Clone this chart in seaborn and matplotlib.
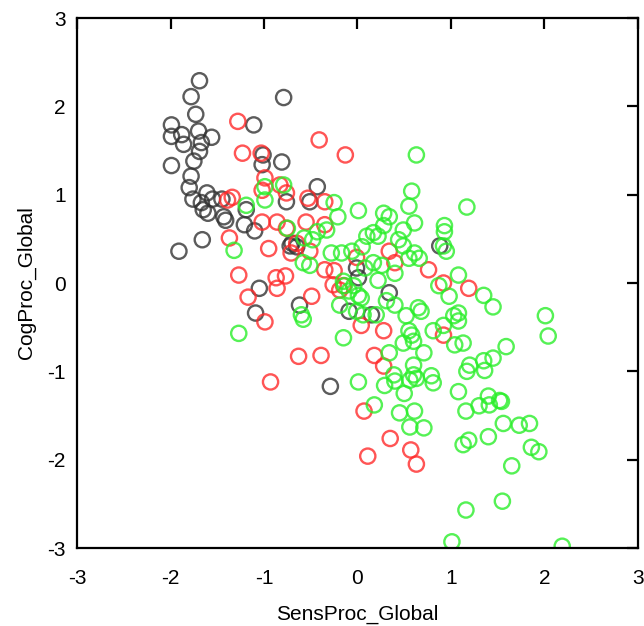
import matplotlib
matplotlib.use("Agg")
import matplotlib.pyplot as plt
import seaborn as sns
import pandas as pd
from matplotlib.colors import to_rgba

# 그룹별 점 데이터
black_x = [-1.69, -1.78, -1.73, -1.99, -1.99, -1.88, -1.86, -1.70, -1.67, -1.56,
           -1.69, -1.75, -1.99, -1.78, -1.80, -1.76, -1.61, -1.55, -1.67, -1.65,
           -1.60, -1.43, -1.41, -1.21, -1.10, -1.19, -1.45, -1.66, -1.91, -1.11,
           -1.01, -1.02, -0.81, -0.79, -0.76, -0.51, -0.43, -0.70, -0.65, -0.72,
           -1.05, -1.09, -0.62, -0.01, 0.01, 0.34, -0.09, 0.15, 0.88, -0.29]
black_y = [2.29, 2.11, 1.91, 1.79, 1.66, 1.68, 1.57, 1.72, 1.59, 1.65,
           1.49, 1.38, 1.33, 1.21, 1.08, 0.95, 1.02, 0.95, 0.91, 0.83,
           0.79, 0.75, 0.71, 0.66, 0.59, 0.83, 0.95, 0.49, 0.36, 1.79,
           1.45, 1.34, 1.37, 2.10, 0.92, 0.92, 1.09, 0.45, 0.41, 0.42,
           -0.06, -0.34, -0.25, 0.17, 0.06, -0.11, -0.32, -0.36, 0.42, -1.17]

red_x = [-1.28, -1.23, -1.03, -0.41, -0.13, -0.99, -1.02, -0.83, -0.76, -0.53,
         -0.35, -1.39, -1.34, -1.02, -0.86, -0.55, -0.35, -0.76, -1.37, -0.95,
         -0.65, -1.27, -1.17, -0.99, -0.87, -0.77, -0.71, -0.51, -0.49, -0.35,
         -0.25, -0.26, -0.15, -0.19, 0.34, 0.40, 0.76, 0.92, 1.19, 0.04,
         0.28, 0.92, -0.63, -0.39, 0.18, 0.28, -0.93, 0.07, 0.35, 0.11,
         0.57, 0.63, -0.01, -0.86]
red_y = [1.83, 1.47, 1.47, 1.62, 1.45, 1.19, 1.05, 1.11, 1.02, 0.96,
         0.92, 0.94, 0.97, 0.69, 0.69, 0.69, 0.66, 0.62, 0.51, 0.39,
         0.45, 0.09, -0.16, -0.44, 0.06, 0.08, 0.34, 0.36, -0.15, 0.15,
         0.14, -0.02, -0.03, -0.08, 0.36, 0.23, 0.15, 0.00, -0.06, -0.48,
         -0.54, -0.59, -0.83, -0.82, -0.82, -0.94, -1.12, -1.45, -1.76, -1.96,
         -1.89, -2.05, 0.29, -0.06]

green_x = [0.63, 0.58, -0.79, -0.99, -1.19, -0.99, -0.75, -0.57, -0.48, -1.32,
           -0.25, -0.21, -0.33, -0.43, 0.01, 0.55, 1.17, 0.28, 0.34, 0.61,
           0.93, 0.93, 0.49, 0.28, 0.17, 0.10, 0.22, 0.44, 0.49, 0.92,
           0.95, -0.28, -0.17, -0.06, 0.05, 0.17, 0.26, 0.55, 0.66, 0.61,
           -0.58, -0.51, 0.40, 1.08, 0.87, 0.98, -0.15, -0.14, -0.04, -0.09,
           0.01, 0.04, 0.31, 0.40, -0.19, -0.01, 0.06, 0.20, -0.60, -0.58,
           0.65, 0.68, 0.52, 1.08, 1.08, 1.03, 0.92, 0.81, 0.55, 0.58,
           0.60, 0.49, 1.04, 1.13, 0.71, 0.34, -0.15, 0.01, 0.39, 0.60,
           0.60, 1.20, 1.17, 0.79, 0.29, 0.40, 0.56, 0.63, 0.81, 0.50,
           0.18, 0.45, 0.61, 0.56, 0.71, 1.08, 1.16, 1.13, 1.19, 1.16,
           1.01, 1.40, 1.30, 1.41, 1.52, 1.54, 1.56, 1.73, 1.84, 1.40,
           1.86, 1.94, 1.65, 1.55, 2.19, 1.35, 1.45, 2.01, 2.04, 1.59,
           1.45, 1.35, 1.36, -1.27, 0.08, 0.22]
green_y = [1.45, 1.04, 1.11, 1.09, 0.88, 0.94, 0.62, 0.51, 0.49, 0.37,
           0.91, 0.75, 0.60, 0.58, 0.82, 0.87, 0.86, 0.79, 0.75, 0.68,
           0.65, 0.58, 0.60, 0.65, 0.57, 0.53, 0.53, 0.49, 0.42, 0.42,
           0.36, 0.34, 0.34, 0.36, 0.41, 0.23, 0.20, 0.28, 0.28, 0.34,
           0.23, 0.20, 0.11, 0.09, -0.03, -0.15, 0.02, -0.03, -0.03, -0.09,
           -0.14, -0.17, -0.20, -0.25, -0.25, -0.32, -0.36, -0.36, -0.36, -0.41,
           -0.28, -0.32, -0.37, -0.34, -0.43, -0.37, -0.48, -0.54, -0.54, -0.59,
           -0.66, -0.68, -0.70, -0.68, -0.79, -0.79, -0.62, -1.12, -1.04, -0.93,
           -1.04, -0.93, -1.00, -1.05, -1.16, -1.11, -1.10, -1.08, -1.13, -1.25,
           -1.38, -1.47, -1.45, -1.63, -1.64, -1.23, -1.45, -1.83, -1.78, -2.57,
           -2.93, -1.28, -1.39, -1.38, -1.33, -1.34, -1.59, -1.61, -1.59, -1.74,
           -1.86, -1.91, -2.07, -2.47, -2.98, -0.14, -0.27, -0.37, -0.60, -0.72,
           -0.85, -0.88, -0.99, -0.57, 0.17, 0.03]

groups = ["black", "red", "green"]
colors = {"black": "#333333", "red": "#ff2a2a", "green": "#2aee2a"}

df = pd.concat([
    pd.DataFrame({"SensProc_Global": black_x, "CogProc_Global": black_y, "group": "black"}),
    pd.DataFrame({"SensProc_Global": red_x, "CogProc_Global": red_y, "group": "red"}),
    pd.DataFrame({"SensProc_Global": green_x, "CogProc_Global": green_y, "group": "green"}),
], ignore_index=True)

sns.set_style("white")
plt.rcParams["font.family"] = ["Liberation Sans", "DejaVu Sans"]
plt.rcParams["axes.unicode_minus"] = False
plt.rcParams["text.color"] = "black"
plt.rcParams["axes.labelcolor"] = "black"

fig = plt.figure(figsize=(6.44, 6.26), dpi=100)
ax = fig.add_axes([0.1196, 0.1246, 0.871, 0.8466])

sns.scatterplot(data=df, x="SensProc_Global", y="CogProc_Global", hue="group",
                hue_order=groups, palette=colors, s=120, legend=False, ax=ax)

# 속이 빈 원으로 변경
coll = ax.collections[0]
edge = [to_rgba(colors[g], 0.8) for g in df["group"]]
coll.set_facecolors("none")
coll.set_edgecolors(edge)
coll.set_linewidths(1.7)

ax.set_xlim(-3, 3)
ax.set_ylim(-3, 3)
ax.set_xticks([-3, -2, -1, 0, 1, 2, 3])
ax.set_yticks([-3, -2, -1, 0, 1, 2, 3])

for sp in ax.spines.values():
    sp.set_linewidth(1.6)
    sp.set_color("black")

ax.tick_params(direction="in", length=8, width=1.6, top=True, right=True,
               labelsize=15, colors="black")
ax.tick_params(axis="x", pad=15)
ax.tick_params(axis="y", pad=8)

ax.set_xlabel("SensProc_Global", fontsize=15, labelpad=12, color="black")
ax.set_ylabel("CogProc_Global", fontsize=15, labelpad=8, color="black")

fig.savefig("out.png", dpi=100)
